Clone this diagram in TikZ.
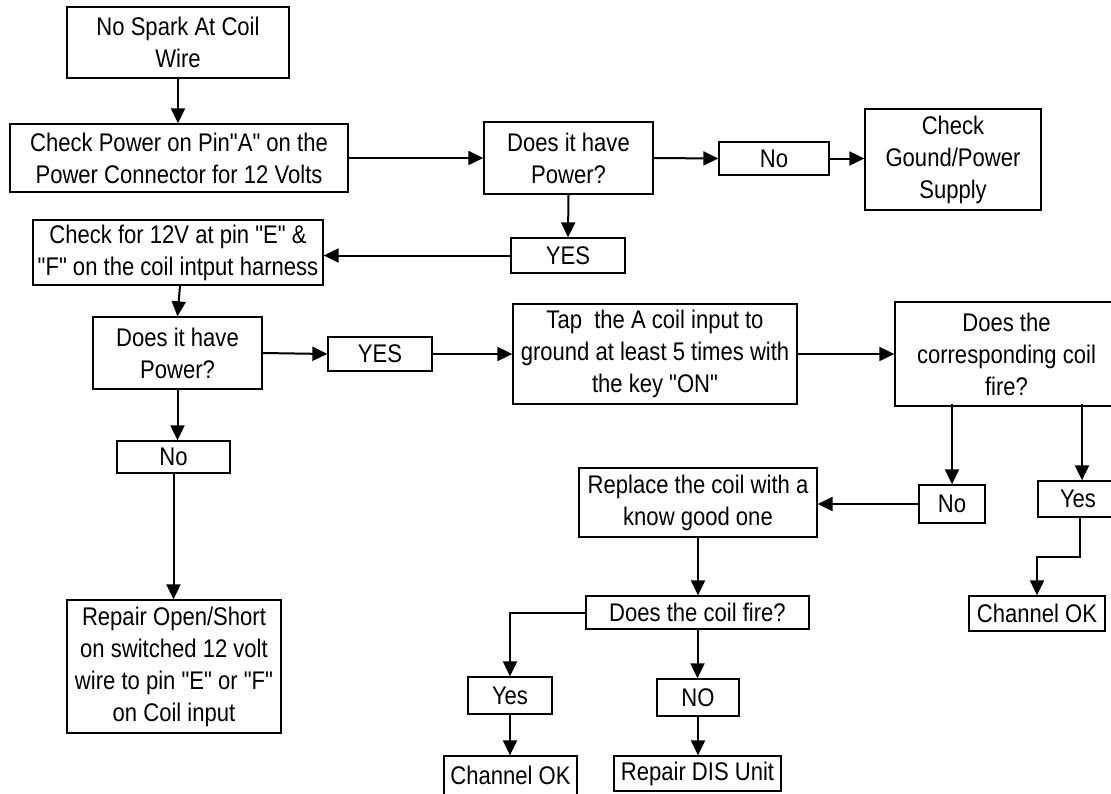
\documentclass[tikz,border=0pt]{standalone}
\usepackage{fontspec}
\setmainfont{Liberation Sans}[FakeStretch=0.865, Ligatures=TeXOff]
\usetikzlibrary{arrows.meta}
\begin{document}
\begin{tikzpicture}[x=1pt,y=-1pt,
  box/.style={draw=black, line width=1.3pt, fill=white, inner sep=0pt, align=center,
    font=\fontsize{25.5}{32}\selectfont},
  arr/.style={line width=2pt, -{Triangle[length=15pt,width=14pt]}}]
\useasboundingbox (0,0) rectangle (1111,793);

\node[box, minimum width=222pt, minimum height=71pt] (n1) at (178,42.5) {No Spark At Coil\\Wire};
\node[box, minimum width=338pt, minimum height=68pt] (n2) at (179,158) {Check Power on Pin"A" on the\\Power Connector for 12 Volts};
\node[box, minimum width=169pt, minimum height=72pt] (d1) at (568.5,158) {Does it have\\Power?};
\node[box, minimum width=110pt, minimum height=33pt] (no1) at (774,158.5) {No};
\node[box, minimum width=176pt, minimum height=101pt] (gnd) at (953,159.5) {Check\\Gound/Power\\Supply};
\node[box, minimum width=114pt, minimum height=35pt] (yes1) at (568,255.5) {YES};
\node[box, minimum width=290pt, minimum height=65pt] (n3) at (178,252.5) {Check for 12V at pin "E" \&\\"F" on the coil intput harness};
\node[box, minimum width=169pt, minimum height=72pt] (d2) at (177.5,353) {Does it have\\Power?};
\node[box, minimum width=104pt, minimum height=34pt] (yes2) at (380,354) {YES};
\node[box, minimum width=284pt, minimum height=100pt] (tap) at (655,354) {Tap~ the A coil input to\\ground at least 5 times with\\the key "ON"};
\node[box, minimum width=223pt, minimum height=104pt] (d3) at (1006.5,354) {Does the\\corresponding coil\\fire?};
\node[box, minimum width=113pt, minimum height=32pt] (no2) at (173.5,457) {No};
\node[box, minimum width=214pt, minimum height=133pt] (rep) at (174,666.5) {Repair Open/Short\\on switched 12 volt\\wire to pin "E" or "F"\\on Coil input};
\node[box, minimum width=66pt, minimum height=38pt] (no3) at (952,504) {No};
\node[box, minimum width=80pt, minimum height=36pt] (yes3) at (1078,499) {Yes};
\node[box, minimum width=238pt, minimum height=69pt] (repl) at (698,502.5) {Replace the coil with a\\know good one};
\node[box, minimum width=136pt, minimum height=35pt] (ch1) at (1037,613.5) {Channel OK};
\node[box, minimum width=223pt, minimum height=33pt] (cf) at (697.5,612.5) {Does the coil fire?};
\node[box, minimum width=84pt, minimum height=37pt] (yes4) at (510,695.5) {Yes};
\node[box, minimum width=82pt, minimum height=37pt] (no4) at (698,697.5) {NO};
\node[box, minimum width=133pt, minimum height=39pt] (ch2) at (510.5,775.5) {Channel OK};
\node[box, minimum width=167pt, minimum height=35pt] (dis) at (697.5,773.5) {Repair DIS Unit};

\draw[arr] (n1.south) -- (n1.south |- n2.north);
\draw[arr] (n2.east) -- (n2.east -| d1.west);
\draw[arr] (d1.east) -- (no1.west);
\draw[arr] (no1.east) -- (no1.east -| gnd.west);
\draw[arr] (d1.south) -- (yes1.north);
\draw[arr] (yes1.west) -- (yes1.west -| n3.east);
\draw[arr] ([xshift=2pt]n3.south) -- (d2.north);
\draw[arr] (d2.east) -- (yes2.west);
\draw[arr] (yes2.east) -- (yes2.east -| tap.west);
\draw[arr] (tap.east) -- (d3.west);
\draw[arr] (d2.south) -- (d2.south |- no2.north);
\draw[arr] (no2.south) -- (no2.south |- rep.north);
\draw[arr] ([yshift=3pt]no3.north |- d3.south) -- (no3.north);
\draw[arr] ([xshift=4pt,yshift=3pt]yes3.north |- d3.south) -- ([xshift=4pt]yes3.north);
\draw[arr] (no3.west) -- (no3.west -| repl.east);
\draw[arr] ([xshift=2pt]yes3.south) -- ++(0,39) -| (ch1.north);
\draw[arr] (repl.south) -- (repl.south |- cf.north);
\draw[arr] (cf.west) -| (yes4.north);
\draw[arr] (cf.south) -- (cf.south |- no4.north);
\draw[arr] (yes4.south) -- (yes4.south |- ch2.north);
\draw[arr] (no4.south) -- (no4.south |- dis.north);
\end{tikzpicture}
\end{document}
